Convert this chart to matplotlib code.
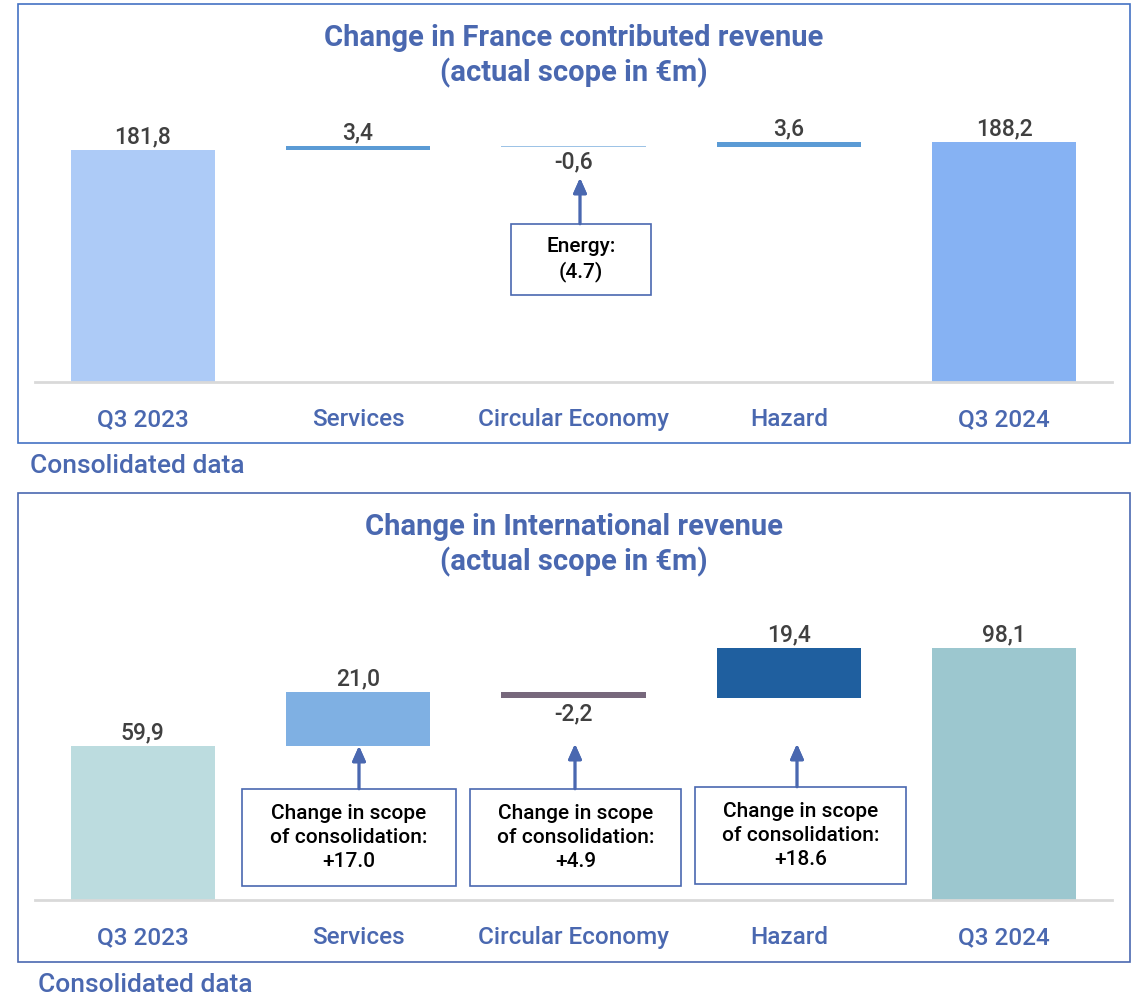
import matplotlib.pyplot as plt
from matplotlib.patches import Rectangle

plt.rcParams['font.family'] = ['Roboto', 'DejaVu Sans']

categories = ['Q3 2023', 'Services', 'Circular Economy', 'Hazard', 'Q3 2024']

# France (top panel)
fr_start = 181.8
fr_changes = [3.4, -0.6, 3.6]
fr_end = 188.2
fr_colors = ['#ADCBF7', '#5B9BD5', '#9DC3E6', '#5B9BD5', '#86B2F3']
fr_title = 'Change in France contributed revenue\n(actual scope in €m)'
fr_notes = {2: 'Energy:\n(4.7)'}

# International (bottom panel)
int_start = 59.9
int_changes = [21.0, -2.2, 19.4]
int_end = 98.1
int_colors = ['#BCDCDF', '#7FB0E3', '#77687C', '#1F5F9F', '#9CC7CF']
int_title = 'Change in International revenue\n(actual scope in €m)'
int_notes = {1: 'Change in scope\nof consolidation:\n+17.0',
             2: 'Change in scope\nof consolidation:\n+4.9',
             3: 'Change in scope\nof consolidation:\n+18.6'}

W, H = 1140, 997
BLUE = '#4A68B0'
fig = plt.figure(figsize=(W / 100, H / 100), dpi=100)


def px(x, y):
    return x / W, 1 - y / H


def fmt(v):
    return f'{v:.1f}'.replace('.', ',')


def waterfall(ax, start, changes, end, colors, ymax):
    bottoms, heights = [0], [start]
    level = start
    for c in changes:
        bottoms.append(level if c > 0 else level + c)
        heights.append(abs(c))
        level += c
    bottoms.append(0)
    heights.append(end)
    values = [start] + changes + [end]
    x = list(range(len(categories)))
    ax.bar(x, heights, bottom=bottoms, width=0.67, color=colors, linewidth=0)
    for i, v in enumerate(values):
        if v >= 0:
            ax.annotate(fmt(v), (i, bottoms[i] + heights[i]), xytext=(0, 1),
                        textcoords='offset points', ha='center', va='bottom',
                        fontsize=16.5, color='#404040', fontweight='medium')
        else:
            ax.annotate(fmt(v), (i, bottoms[i]), xytext=(0, -3),
                        textcoords='offset points', ha='center', va='top',
                        fontsize=16.5, color='#404040', fontweight='medium')
    ax.set_xlim(-0.5, 4.5)
    ax.set_ylim(0, ymax)
    ax.set_xticks(x)
    ax.set_xticklabels(categories, fontsize=17.5, color=BLUE, fontweight='medium')
    ax.tick_params(axis='x', length=0, pad=19)
    ax.set_yticks([])
    for s in ['top', 'left', 'right']:
        ax.spines[s].set_visible(False)
    ax.spines['bottom'].set_color('#D9D9D9')
    ax.spines['bottom'].set_linewidth(2)


def note(text, box, tip):
    x0, y0, x1, y1 = box
    fx0, fy1 = px(x0, y1)
    fx1, fy0 = px(x1, y0)
    fig.patches.append(Rectangle((fx0, fy1), fx1 - fx0, fy0 - fy1, transform=fig.transFigure,
                                 facecolor='white', edgecolor=BLUE, linewidth=1.2))
    cx, cy = px((x0 + x1) / 2, (y0 + y1) / 2)
    fig.text(cx, cy, text, ha='center', va='center', fontsize=15, color='black',
             fontweight='medium', linespacing=1.35)
    ax_x = (x0 + x1) / 2 if tip[0] is None else tip[0]
    fig.add_artist(plt.annotate('', xy=px(ax_x, tip[1]), xytext=px(ax_x, y0),
                                xycoords='figure fraction', textcoords='figure fraction',
                                arrowprops=dict(arrowstyle='-|>,head_length=0.9,head_width=0.4',
                                                color=BLUE, lw=2, shrinkA=0, shrinkB=0)))


# panel borders
for (x0, y0, x1, y1), ec in [((18, 4, 1130, 443), '#4472C4'), ((18, 493, 1130, 962), '#4A68B0')]:
    fx0, fy1 = px(x0, y1)
    fx1, fy0 = px(x1, y0)
    fig.patches.append(Rectangle((fx0, fy1), fx1 - fx0, fy0 - fy1, transform=fig.transFigure,
                                 fill=False, edgecolor=ec, linewidth=1.2))

# top panel
ax1 = fig.add_axes([35 / W, 1 - 382 / H, (1112 - 35) / W, (382 - 100) / H])
waterfall(ax1, fr_start, fr_changes, fr_end, fr_colors, (382 - 100) / 1.275)
fig.text(*px(574, 56), fr_title, ha='center', va='center', fontsize=21, fontweight='bold',
         color=BLUE, linespacing=1.25)
fig.text(*px(30, 466), 'Consolidated data', ha='left', va='center', fontsize=19,
         color=BLUE, fontweight='medium')
note(fr_notes[2], (511, 224, 651, 295), (580, 178))

# bottom panel
ax2 = fig.add_axes([35 / W, 1 - 900 / H, (1112 - 35) / W, (900 - 600) / H])
waterfall(ax2, int_start, int_changes, int_end, int_colors, (900 - 600) / 2.57)
fig.text(*px(574, 545), int_title, ha='center', va='center', fontsize=21, fontweight='bold',
         color=BLUE, linespacing=1.25)
fig.text(*px(38, 985), 'Consolidated data', ha='left', va='center', fontsize=19,
         color=BLUE, fontweight='medium')
note(int_notes[1], (242, 789, 456, 886), (359, 746))
note(int_notes[2], (470, 789, 681, 886), (575, 744))
note(int_notes[3], (695, 787, 906, 884), (797, 744))

fig.savefig('out.png', dpi=100)
